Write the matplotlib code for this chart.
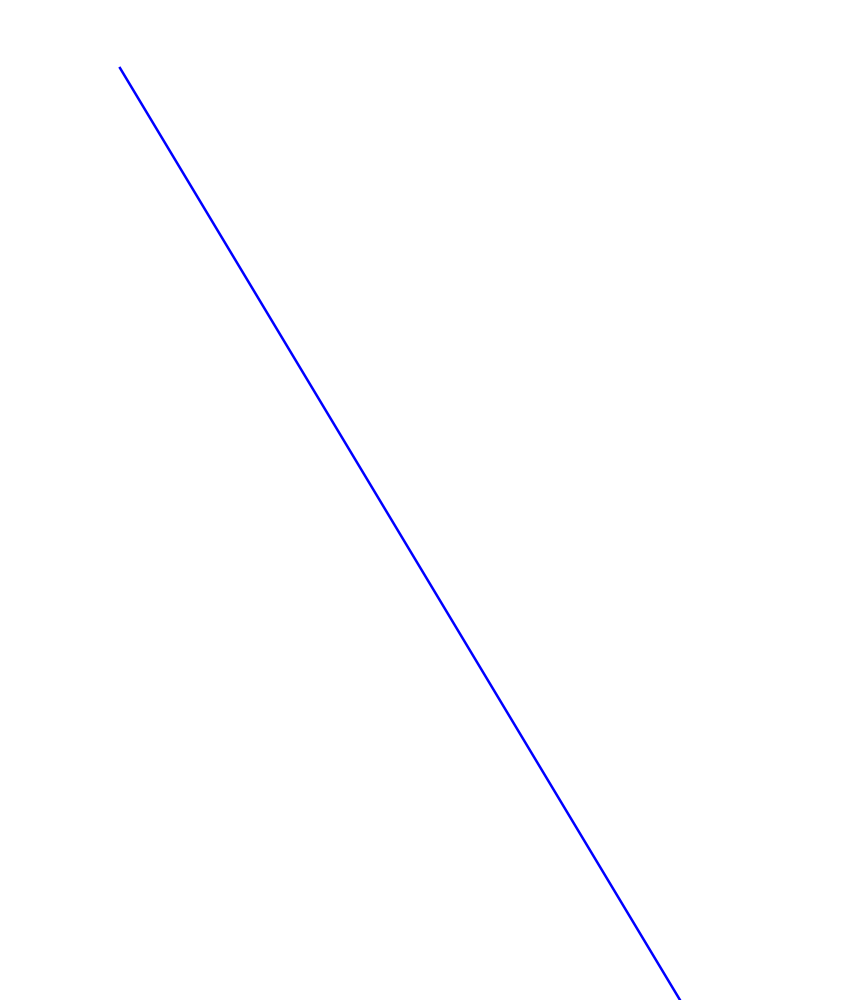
import matplotlib
matplotlib.use("Agg")
import matplotlib.pyplot as plt

x_vals = [0, 1]
y_vals = [1, 0]

fig = plt.figure(figsize=(8.64, 10), dpi=100)
ax = fig.add_axes([0, 0, 1, 1])
ax.plot(x_vals, y_vals, color="blue", linewidth=1.8)
ax.set_xlim(-120 / 560, 744 / 560)
ax.set_ylim(0, 1 + 68 / 932)
ax.axis("off")

fig.savefig("out.png", dpi=100)
